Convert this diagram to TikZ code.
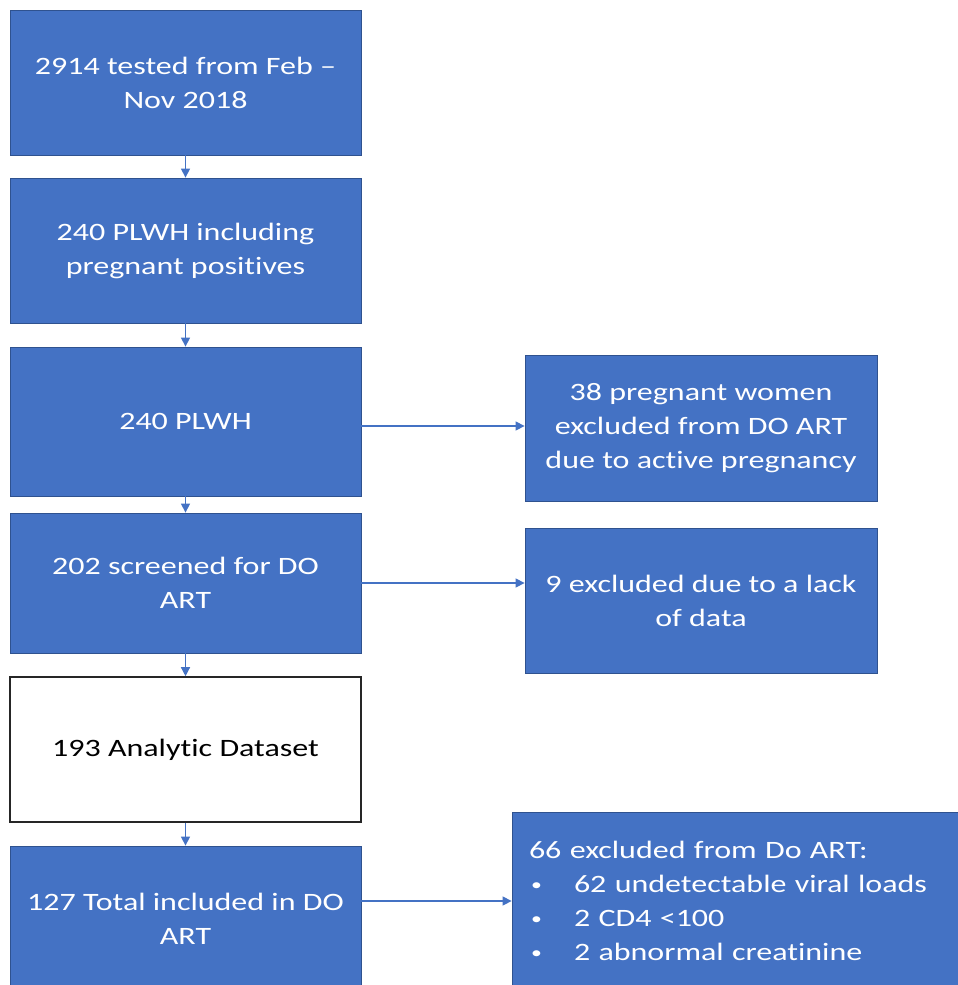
\documentclass[tikz,border=0pt]{standalone}
\usepackage{fontspec}
\setmainfont{Carlito}[FakeStretch=1.28,Ligatures=NoCommon,Contextuals=NoAlternate]
\usetikzlibrary{arrows.meta}
\definecolor{boxblue}{HTML}{4472C4}
\definecolor{boxedge}{HTML}{2F528F}
\newcommand{\smallbul}{\hspace*{2pt}\makebox[43pt][l]{\raisebox{2pt}{\fontsize{17}{17}\selectfont\textbullet}}}
\begin{document}
\begin{tikzpicture}[x=1pt,y=-1pt,
  basebox/.style={align=center, inner sep=0pt, font=\fontsize{25}{34}\selectfont},
  bluebox/.style={basebox, draw=boxedge, line width=0.8pt, fill=boxblue, text=white},
  whitebox/.style={basebox, draw=black!85, line width=1.6pt, fill=white, text=black},
  arr/.style={draw=boxblue, line width=1.3pt, -{Triangle[length=9pt,width=9pt]}}]
\useasboundingbox (0,0) rectangle (958,985);
\clip (0,0) rectangle (958,985);
% left column
\node[bluebox, minimum width=351pt, minimum height=145pt] (b1) at (185.5,82.5) {2914 tested from Feb --\\Nov 2018};
\node[bluebox, minimum width=351pt, minimum height=145pt] (b2) at (185.5,250.5) {240 PLWH including\\pregnant positives};
\node[bluebox, minimum width=351pt, minimum height=149pt] (b3) at (185.5,421.5) {240 PLWH};
\node[bluebox, minimum width=351pt, minimum height=140pt] (b4) at (185.5,583) {202 screened for DO\\ART};
\node[whitebox, minimum width=351pt, minimum height=145pt] (b5) at (185.5,749.5) {193 Analyt{}ic Dataset};
\node[bluebox, minimum width=351pt, minimum height=145pt] (b6) at (185.5,918.5) {127 Total included in DO\\ART};
% right column
\node[bluebox, minimum width=352pt, minimum height=146pt] (r1) at (701,428) {38 pregnant women\\excluded from DO ART\\due to active pregnancy};
\node[bluebox, minimum width=352pt, minimum height=145pt] (r2) at (701,600.5) {9 excluded due to a lack\\of data};
\node[bluebox, align=left, text width=416pt, inner xsep=17pt, inner ysep=0pt, minimum height=178pt] (r3) at (737,901)
  {66 excluded from Do ART:\\
   \smallbul 62 undetectable viral loads\\
   \smallbul 2 CD4 <100\\
   \smallbul 2 abnormal creatinine};
% connectors
\draw[arr] (b1) -- (b2);
\draw[arr] (b2) -- (b3);
\draw[arr] (b3) -- (b4);
\draw[arr] (b4) -- (b5);
\draw[arr] (b5) -- (b6);
\draw[arr] ([yshift=2pt]r1.west -| b3.east) -- ([yshift=2pt]r1.west);
\draw[arr] (b4.east) -- (b4.east -| r2.west);
\draw[arr] (r3.west -| b6.east) -- (r3.west);
\end{tikzpicture}
\end{document}
